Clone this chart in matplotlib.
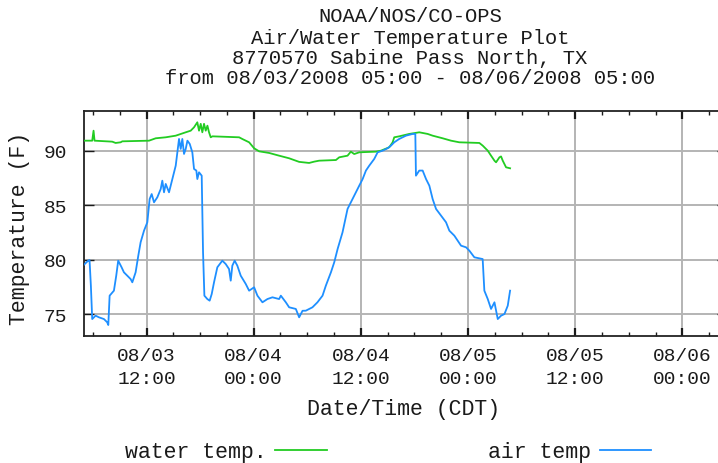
import matplotlib
matplotlib.use("Agg")
import matplotlib.pyplot as plt
import matplotlib.dates as mdates
import pandas as pd

# ---------------- data ----------------
title_lines = ["NOAA/NOS/CO-OPS",
               "Air/Water Temperature Plot",
               "8770570 Sabine Pass North, TX",
               "from 08/03/2008 05:00 - 08/06/2008 05:00"]
start_time = "2008-08-03 05:00"
end_time = "2008-08-06 05:00"

# hours after 08/03/2008 05:00
water_hours = [0.0, 0.92, 1.07, 1.18, 3.16, 3.54, 4.10, 4.29, 7.28, 8.03, 9.15,
               10.27, 11.39, 11.95, 12.32, 12.69, 12.88, 13.07, 13.25, 13.44,
               13.63, 13.82, 14.0, 14.19, 14.38, 17.37, 17.74, 18.49, 19.05,
               19.61, 20.73, 21.85, 22.97, 24.09, 25.21, 25.77, 26.33, 28.21,
               28.58, 29.51, 29.88, 30.26, 30.82, 32.69, 33.25, 34.18, 34.56,
               34.74, 35.30, 36.42, 37.54, 38.48, 39.04, 40.16, 41.1, 42.03,
               44.27, 44.65, 45.21, 45.58, 45.96, 46.14, 46.52, 46.7, 46.89,
               47.26, 47.71]
water_temp = [90.95, 90.95, 91.87, 90.95, 90.86, 90.74, 90.8, 90.89, 90.95,
              91.17, 91.26, 91.41, 91.72, 91.87, 92.18, 92.64, 91.87, 92.5,
              91.72, 92.5, 91.87, 92.33, 91.72, 91.26, 91.35, 91.26, 91.1,
              90.8, 90.25, 89.97, 89.82, 89.57, 89.33, 89.0, 88.9, 89.02,
              89.11, 89.17, 89.42, 89.57, 89.94, 89.72, 89.88, 89.94, 90.03,
              90.34, 90.8, 91.26, 91.35, 91.57, 91.72, 91.57, 91.41, 91.17,
              90.95, 90.8, 90.74, 90.49, 90.03, 89.57, 89.11, 88.96, 89.42,
              89.5, 89.11, 88.5, 88.41]

air_hours = [0.0, 0.47, 0.62, 0.77, 0.92, 1.30, 1.67, 2.23, 2.60, 2.72, 2.87,
             3.35, 3.61, 3.83, 4.21, 4.47, 4.85, 5.22, 5.41, 5.78, 6.08, 6.34,
             6.72, 7.09, 7.35, 7.58, 7.84, 8.21, 8.59, 8.77, 8.96, 9.15, 9.52,
             9.89, 10.27, 10.45, 10.64, 10.83, 11.01, 11.2, 11.39, 11.58,
             11.84, 12.13, 12.32, 12.58, 12.69, 12.88, 13.18, 13.33, 13.48,
             13.81, 14.07, 14.3, 14.56, 14.93, 15.49, 15.87, 16.24, 16.43,
             16.61, 16.87, 17.17, 17.55, 18.11, 18.49, 19.05, 19.42, 19.98,
             20.54, 21.1, 21.85, 22.04, 22.6, 22.97, 23.72, 24.09, 24.47,
             24.84, 25.58, 26.14, 26.71, 27.08, 27.65, 28.02, 28.4, 28.95,
             29.51, 29.88, 30.26, 30.82, 31.2, 31.57, 31.94, 32.5, 32.88,
             33.44, 33.99, 34.37, 34.74, 35.30, 36.05, 36.8, 37.1, 37.17,
             37.54, 37.92, 38.3, 38.67, 39.04, 39.42, 39.98, 40.54, 40.91,
             41.47, 42.22, 42.78, 43.15, 43.71, 44.64, 44.83, 45.21, 45.58,
             45.96, 46.33, 46.7, 47.08, 47.45, 47.71]
air_temp = [79.54, 79.91, 79.97, 77.61, 74.54, 74.85, 74.7, 74.54, 74.24,
            73.99, 76.69, 77.15, 78.53, 79.91, 79.3, 78.84, 78.53, 78.22,
            77.92, 78.84, 80.37, 81.6, 82.67, 83.44, 85.58, 86.04, 85.28,
            85.74, 86.5, 87.27, 86.2, 86.97, 86.2, 87.42, 88.65, 89.88, 91.11,
            90.19, 91.11, 89.73, 90.19, 90.95, 90.65, 89.88, 88.35, 88.2,
            87.42, 88.04, 87.73, 80.68, 76.69, 76.38, 76.23, 76.84, 77.92,
            79.3, 79.91, 79.6, 79.14, 78.07, 79.45, 79.91, 79.45, 78.53,
            77.77, 77.15, 77.46, 76.69, 76.08, 76.38, 76.54, 76.38, 76.69,
            76.08, 75.62, 75.47, 74.7, 75.3, 75.31, 75.62, 76.08, 76.69,
            77.61, 78.84, 79.76, 80.99, 82.52, 84.67, 85.28, 85.89, 86.81,
            87.42, 88.2, 88.65, 89.27, 89.88, 90.03, 90.25, 90.49, 90.8,
            91.11, 91.41, 91.57, 91.57, 87.73, 88.2, 88.2, 87.42, 86.81,
            85.58, 84.67, 84.05, 83.44, 82.67, 82.21, 81.29, 81.14, 80.83,
            80.22, 80.06, 77.15, 76.38, 75.47, 76.08, 74.54, 74.85, 75.0,
            75.77, 77.15]

x_tick_times = ["2008-08-03 12:00", "2008-08-04 00:00", "2008-08-04 12:00",
                "2008-08-05 00:00", "2008-08-05 12:00", "2008-08-06 00:00"]
x_tick_labels = ["08/03\n12:00", "08/04\n00:00", "08/04\n12:00",
                 "08/05\n00:00", "08/05\n12:00", "08/06\n00:00"]
y_ticks = [75, 80, 85, 90]
y_tick_labels = ["75", "80", "85", "90"]
legend_labels = ["water temp.", "air temp"]

# ---------------- style ----------------
FONT = ["Liberation Mono", "DejaVu Sans Mono"]
FS_TICK = 14
FS_TEXT = 15.5
FS_TITLE = 14.8
TXT = "#1a1a1a"
GREEN = "#22cc22"
BLUE = "#1e8fff"

plt.rcParams["font.family"] = FONT
plt.rcParams["font.size"] = FS_TICK

W, H = 718, 464
fig = plt.figure(figsize=(W / 100, H / 100), dpi=100)
ax = fig.add_axes([84 / W, 1 - 337 / H, (727 - 84) / W, (337 - 112) / H])

t0 = pd.Timestamp(start_time)
water_x = (t0 + pd.to_timedelta(water_hours, unit="h")).to_pydatetime()
air_x = (t0 + pd.to_timedelta(air_hours, unit="h")).to_pydatetime()

l_water, = ax.plot(water_x, water_temp, color=GREEN, lw=1.3, zorder=3)
l_air, = ax.plot(air_x, air_temp, color=BLUE, lw=1.3, zorder=3)

ax.set_xlim(pd.Timestamp(start_time).to_pydatetime(),
            pd.Timestamp(end_time).to_pydatetime())
ax.set_ylim(72.98, 93.68)

ax.set_xticks(pd.to_datetime(x_tick_times).to_pydatetime())
ax.set_xticklabels(x_tick_labels, linespacing=1.45)
ax.xaxis.set_minor_locator(mdates.HourLocator(byhour=range(0, 24, 3)))
ax.set_yticks(y_ticks)
ax.set_yticklabels(y_tick_labels)

ax.grid(True, which="major", color="#b4b4b4", lw=1.4, zorder=1)
ax.set_axisbelow(True)
ax.tick_params(axis="x", which="major", direction="in", length=6, width=1.6,
               top=True, bottom=True, colors=TXT, pad=8, labelsize=FS_TICK)
ax.tick_params(axis="x", which="minor", direction="in", length=3, width=1.0,
               top=True, bottom=True, colors=TXT)
ax.tick_params(axis="y", which="major", direction="in", length=7, width=1.0,
               left=True, right=True, colors=TXT, pad=12, labelsize=FS_TICK)
for s in ax.spines.values():
    s.set_linewidth(1.3)
    s.set_color("#222222")

# titles
title_y = [17, 38, 58, 78]
for line, yy in zip(title_lines, title_y):
    fig.text(410 / W, 1 - yy / H, line, ha="center", va="center",
             fontsize=FS_TITLE, color=TXT)

fig.text(404 / W, 1 - 410 / H, "Date/Time (CDT)", ha="center", va="center",
         fontsize=FS_TEXT, color=TXT)
fig.text(20 / W, 1 - 228 / H, "Temperature (F)", ha="center", va="center",
         rotation=90, fontsize=FS_TEXT, color=TXT)

fig.legend([l_water, l_air], legend_labels, ncol=2, markerfirst=False,
           frameon=False, loc="center", bbox_to_anchor=(388 / W, 1 - 453 / H),
           handlelength=2.4, handletextpad=0.4, columnspacing=7.5,
           fontsize=FS_TEXT, labelcolor=TXT)

fig.savefig("out.png", dpi=100)
